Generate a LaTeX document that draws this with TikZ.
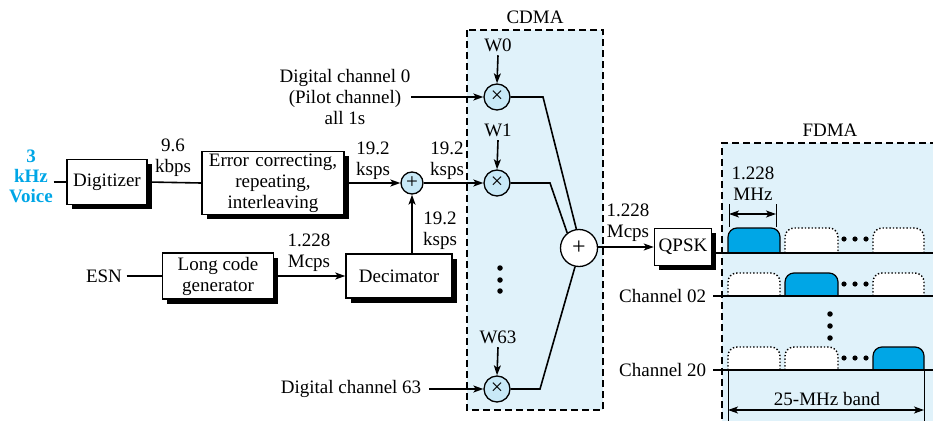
\documentclass[tikz,border=0pt]{standalone}
\usepackage{fontspec}
\setmainfont{Liberation Serif}
\usetikzlibrary{arrows.meta,shadows}
\definecolor{bgblue}{RGB}{224,242,250}
\definecolor{cblue}{RGB}{200,233,247}
\definecolor{sblue}{RGB}{0,166,230}
\begin{document}
\begin{tikzpicture}[x=1pt,y=-1pt,
  font=\fontsize{19}{21}\selectfont,
  line width=1.6pt,
  >={Stealth[length=10pt,width=7pt,inset=2.5pt]},
  box/.style={draw, line width=1.5pt, fill=white, align=center, inner sep=0pt,
    drop shadow={shadow xshift=4.5pt, shadow yshift=-4.5pt, fill=black, opacity=1}},
  lbl/.style={align=center, inner sep=0pt},
  mult/.style={circle, draw, fill=cblue, minimum size=26pt, inner sep=0pt, line width=1.3pt, font=\fontsize{22}{22}\selectfont},
  adder/.style={circle, draw, fill=cblue, minimum size=22pt, inner sep=0pt, line width=1.3pt, font=\fontsize{21}{21}\selectfont},
  dashbox/.style={line width=1.2pt, dash pattern=on 7pt off 4pt},
  blueslot/.style={fill=sblue, draw=black, line width=1.2pt},
  emptyslot/.style={fill=white, draw=black, line width=1.4pt, dotted},
  dotmark/.style={circle, fill=black, inner sep=0pt, minimum size=5.5pt}
]
\useasboundingbox (0,0) rectangle (933,420);
\clip (0,0) rectangle (933,420);

% background regions
\draw[dashbox, fill=bgblue] (467,30) rectangle (603,410);
\fill[bgblue] (722,143) rectangle (945,430);
\draw[dashbox] (722,430) -- (722,143) -- (945,143);
\node[lbl] (cdmalbl) at (535,17) {CDMA};
\node[lbl] (fdmalbl) at (830,130) {FDMA};

% left chain
\node[lbl, text=sblue, font=\fontsize{19}{20}\selectfont\bfseries] (voice) at (31,176) {3\\kHz\\Voice};
\node[box, minimum width=80pt, minimum height=45pt] (dig) at (107,182) {Digitizer};
\node[box, minimum width=142pt, minimum height=63pt, text width=138pt] (err) at (273,183) {Error correcting,\\repeating,\\interleaving};
\node[adder] (add1) at (412,183) {+};
\node[lbl] (esn) at (104,276) {ESN};
\node[box, minimum width=111pt, minimum height=46pt] (lcg) at (218,276) {Long code\\generator};
\node[box, minimum width=106pt, minimum height=44pt] (dec) at (399,276) {Decimator};

\draw (voice.east |- dig) -- (dig.west);
\draw (dig.east) -- (err.west);
\draw[->] (err.east) -- (add1.west);
\draw (esn.east) ++(4,0) coordinate (esnr) -- (lcg.west);
\draw[->] (lcg.east) -- (dec.west);
\draw[->] (add1 |- dec.north) -- (add1.south);

\node[lbl] (l96) at (173,158) {9.6\\kbps};
\node[lbl] (l192a) at (373,161) {19.2\\ksps};
\node[lbl] (l192b) at (447,161) {19.2\\ksps};
\node[lbl] (l192c) at (440,231) {19.2\\ksps};
\node[lbl] (l1228a) at (309,253) {1.228\\Mcps};

% CDMA multipliers
\node[lbl] (w0) at (498,45) {W0};
\node[lbl] (w1) at (498,130) {W1};
\node[lbl] (w63) at (498,337) {W63};
\node[mult] (m0) at (497,97) {×};
\node[mult] (m1) at (497,183) {×};
\node[mult] (m63) at (497,389) {×};
\draw[->] (w0.south) ++(0,3) -- (m0.north);
\draw[->] (w1.south) ++(0,3) -- (m1.north);
\draw[->] (w63.south) ++(0,3) -- (m63.north);
\draw[->] (add1.east) -- (m1.west);

\node[lbl] (dc0) at (345,97) {Digital channel 0\\(Pilot channel)\\all 1s};
\coordinate (dc0a) at (411,97);
\draw[->] (dc0a) -- (m0.west);
\node[lbl, anchor=east] (dc63) at (422,389) {Digital channel 63};
\draw[->] (dc63.east) ++(7,0) -- (m63.west);

\node[dotmark] (cd1) at (500,268) {};
\node[dotmark] (cd2) at (500,280) {};
\node[dotmark] (cd3) at (500,291) {};

\node[circle, draw, fill=white, minimum size=37pt, inner sep=0pt, line width=1.3pt, font=\fontsize{24}{24}\selectfont] (sum) at (579,248) {+};
\draw (m0.east) -- (543,97) -- (sum.98);
\draw (m1.east) -- (550,183) -- (sum.128);
\draw (m63.east) -- (540,389) -- (sum.258);

% QPSK
\node[box, minimum width=57pt, minimum height=37pt] (qpsk) at (683,247) {QPSK};
\draw[->] (sum.east |- qpsk.west) -- (qpsk.west);
\node[lbl] (l1228b) at (628,223) {1.228\\Mcps};

% FDMA rows
\coordinate (r1s) at (716,253);
\coordinate (r1e) at (945,253);
\node[lbl, anchor=east] (ch02) at (707,296) {Channel 02};
\node[lbl, anchor=east] (ch20) at (707,370) {Channel 20};
\coordinate (r2e) at (945,296);
\coordinate (r3e) at (945,370);

% slots
\foreach \b/\t/\k in {253/228/1, 296/273/2, 370/347/3}{
  \foreach \xa/\xb/\j in {728/780/1, 785/838/2, 873/924/3}{
    \ifnum\j=\k
      \path[blueslot] (\xa,\b) -- (\xa,\t+9) arc[start angle=180,end angle=90,radius=9pt]
        -- (\xb-9,\t) arc[start angle=90,end angle=0,radius=9pt] -- (\xb,\b) -- cycle;
    \else
      \fill[white] (\xa,\b) -- (\xa,\t+9) arc[start angle=180,end angle=90,radius=9pt]
        -- (\xb-9,\t) arc[start angle=90,end angle=0,radius=9pt] -- (\xb,\b) -- cycle;
      \draw[emptyslot] (\xa,\b) -- (\xa,\t+9) arc[start angle=180,end angle=90,radius=9pt]
        -- (\xb-9,\t) arc[start angle=90,end angle=0,radius=9pt] -- (\xb,\b);
    \fi
  }
  \foreach \x in {844,855,866}{ \fill (\x,\t+11) circle (2.6pt); }
}
\draw (r1s) -- (r1e);
\draw (ch02.east) ++(6,0) -- (r2e);
\draw (ch20.east) ++(6,0) -- (r3e);

\node[dotmark] (fd1) at (830,314) {};
\node[dotmark] (fd2) at (830,326) {};
\node[dotmark] (fd3) at (830,338) {};

% 1.228 MHz dimension
\coordinate (ta1) at (729,204);
\coordinate (ta2) at (776,204);
\draw[line width=1pt] (ta1) -- ++(0,23);
\draw[line width=1pt] (ta2) -- ++(0,23);
\draw[<->, line width=1.2pt] (729,214) -- (776,214);
\node[lbl] (mhz) at (753,184) {1.228\\MHz};

% 25-MHz band
\draw[line width=1pt] (728,370) -- (728,425);
\draw[line width=1pt] (924,370) -- (924,425);
\draw[<->, line width=1.2pt] (728,410) -- (924,410);
\node[lbl] (band) at (827,399) {25-MHz band};
\end{tikzpicture}
\end{document}
